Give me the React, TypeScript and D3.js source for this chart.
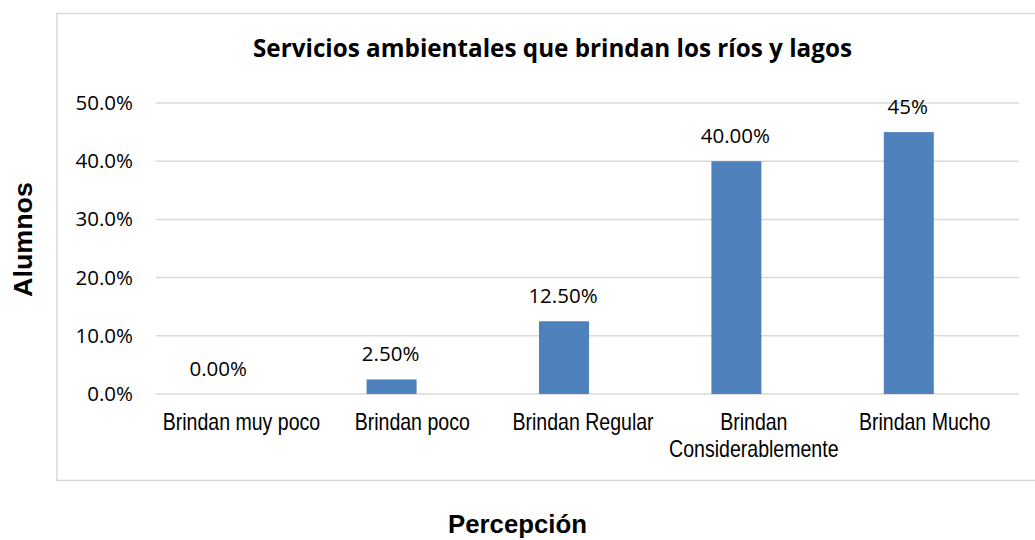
import React, { useEffect } from 'react';
import * as d3 from 'd3';

// Data
const categories = [
  ['Brindan muy poco'],
  ['Brindan poco'],
  ['Brindan Regular'],
  ['Brindan', 'Considerablemente'],
  ['Brindan Mucho'],
];
const values = [0, 2.5, 12.5, 40, 45];
const valueLabels = ['0.00%', '2.50%', '12.50%', '40.00%', '45%'];
const yTicks = [0, 10, 20, 30, 40, 50];

const W = 1035;
const H = 540;

const App = () => {
  useEffect(() => {
    document.body.style.margin = '0';
  }, []);

  const keys = categories.map((c) => c.join(' '));

  // y scale: 0% at 394, 50% at 103
  const y = d3.scaleLinear().domain([0, 50]).range([394, 103]);

  // bars
  const x = d3.scaleBand<string>()
    .domain(keys)
    .range([133, 995])
    .paddingInner(0.71)
    .paddingOuter(0.355);

  // category labels sit a bit to the right of the bars
  const xLabel = d3.scaleBand<string>().domain(keys).range([156, 1010]);

  const tickFont = "'Open Sans', 'DejaVu Sans', sans-serif";
  const gridColor = '#d9d9d9';

  return (
    <svg width={W} height={H} style={{ display: 'block', background: '#fff' }}>
      {/* chart border */}
      <rect x={57} y={13.5} width={1000} height={467} fill="none" stroke={gridColor} strokeWidth={1.5} />

      {/* title */}
      <text
        x={552.5}
        y={57}
        textAnchor="middle"
        fontFamily={tickFont}
        fontWeight="bold"
        fontSize={24.5}
        textLength={599}
        lengthAdjust="spacingAndGlyphs"
        fill="#000"
      >
        Servicios ambientales que brindan los ríos y lagos
      </text>

      {/* gridlines + y tick labels */}
      {yTicks.map((t) => (
        <g key={t}>
          <line x1={156} x2={1019} y1={y(t)} y2={y(t)} stroke={gridColor} strokeWidth={1.5} />
          <text x={133} y={y(t) + 7} textAnchor="end" fontFamily={tickFont} fontSize={20.5} fill="#000">
            {t.toFixed(1)}%
          </text>
        </g>
      ))}

      {/* bars */}
      {values.map((v, i) => (
        <rect
          key={keys[i]}
          x={x(keys[i])}
          y={y(v)}
          width={x.bandwidth()}
          height={y(0) - y(v)}
          fill="#4f81bd"
        />
      ))}

      {/* value labels */}
      {values.map((v, i) => (
        <text
          key={'v' + i}
          x={(x(keys[i]) as number) + x.bandwidth() / 2 - 1}
          y={y(v) - 18.5}
          textAnchor="middle"
          fontFamily={tickFont}
          fontSize={20.5}
          fill="#000"
        >
          {valueLabels[i]}
        </text>
      ))}

      {/* category labels (narrow face imitated by a horizontal squeeze) */}
      {categories.map((lines, i) => (
        <g
          key={'c' + i}
          transform={`translate(${(xLabel(keys[i]) as number) + xLabel.bandwidth() / 2},0) scale(0.85,1)`}
        >
          <text
            textAnchor="middle"
            fontFamily="'Liberation Sans', Arial, sans-serif"
            fontSize={23}
            fill="#000"
          >
            {lines.map((l, j) => (
              <tspan key={j} x={0} y={430 + j * 27}>
                {l}
              </tspan>
            ))}
          </text>
        </g>
      ))}

      {/* axis titles */}
      <text
        transform="translate(32,239.5) rotate(-90)"
        textAnchor="middle"
        fontFamily="'Liberation Sans', Arial, sans-serif"
        fontWeight="bold"
        fontSize={25}
        textLength={115}
        lengthAdjust="spacingAndGlyphs"
        fill="#000"
      >
        Alumnos
      </text>
      <text
        x={517.5}
        y={533}
        textAnchor="middle"
        fontFamily="'Liberation Sans', Arial, sans-serif"
        fontWeight="bold"
        fontSize={25}
        textLength={139}
        lengthAdjust="spacingAndGlyphs"
        fill="#000"
      >
        Percepción
      </text>
    </svg>
  );
};

export default App;
